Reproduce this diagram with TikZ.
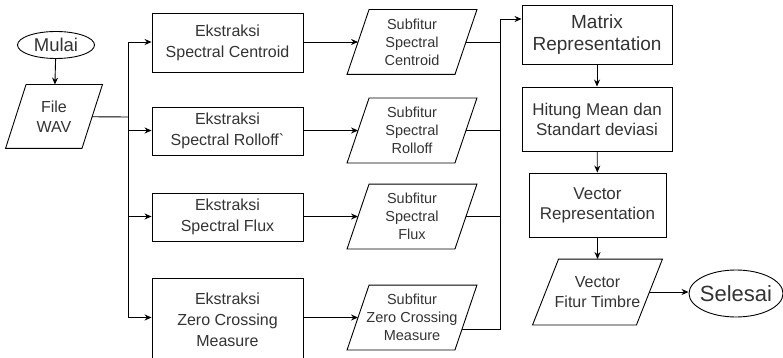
\documentclass[tikz,border=0pt]{standalone}
\usepackage{fontspec}
\setmainfont{Liberation Sans}
\usetikzlibrary{shapes.geometric,arrows.meta,calc}
\definecolor{ink}{HTML}{333333}

\tikzset{
  box/.style={draw, rectangle, align=center, inner sep=0pt, text=ink},
  io/.style={rectangle, align=center, inner sep=0pt, text=ink},
  term/.style={draw, ellipse, inner xsep=-3pt, inner ysep=0pt, text=ink},
  go/.style={-{Stealth[length=7pt,width=6pt]}},
}
% outline of a data node: #1 node name, #2 half of the slant
\newcommand\slantbox[2]{%
  \draw ([xshift=#2]#1.north west) -- ([xshift=#2]#1.north east)
     -- ([xshift=-#2]#1.south east) -- ([xshift=-#2]#1.south west) -- cycle;}

\begin{document}
\begin{tikzpicture}[x=1pt,y=-1pt,line width=0.9pt,font=\fontsize{16}{21}\selectfont]
  \useasboundingbox (0,0) rectangle (783,358);

  % start and input
  \node[term,minimum width=77pt,minimum height=27pt,font=\fontsize{18.5}{22}\selectfont] (mulai) at (56,45) {Mulai};
  \node[io,minimum width=75.5pt,minimum height=63pt,font=\fontsize{16}{20}\selectfont] (file) at (54,116.5) {File\\WAV};
  \slantbox{file}{10.25pt}
  \draw[go] (mulai) -- (file);

  % four feature rows: y of box / box height / y of output / texts
  \def\rows{42.5/59/42/{Ekstraksi\\Spectral Centroid}/{Subfitur\\Spectral\\Centroid},
            131/48/130.5/{Ekstraksi\\Spectral Rolloff\textasciigrave}/{Subfitur\\Spectral\\Rolloff},
            217/48/216.5/{Ekstraksi\\Spectral Flux}/{Subfitur\\Spectral\\Flux},
            320/84/317.5/{Ekstraksi\\Zero Crossing\\Measure}/{Subfitur\\Zero Crossing\\Measure}}
  \foreach \ye/\h/\ys/\ek/\sf [count=\i from 1] in \rows {
    \node[box,minimum width=151pt,minimum height=\h pt] (e\i) at (227.5,\ye) {\ek};
    \node[io,minimum width=107pt,minimum height=64pt,
      font=\fontsize{14.5}{18}\selectfont] (s\i) at (412,\ys) {\sf};
    \slantbox{s\i}{11pt}
  }

  % split from the input to every extraction
  \coordinate (split) at (128,117);
  \draw (file) -- (split);
  \foreach \i in {1,...,4} {
    \draw[go] (split) |- (e\i.west |- s\i);
    \draw[go] (e\i.east |- s\i) -- (s\i);
  }

  % right column
  \node[box,minimum width=150pt,minimum height=59pt,font=\fontsize{19}{21.5}\selectfont] (mrep) at (597,34.5) {Matrix\\Representation};
  \node[box,minimum width=150pt,minimum height=64pt,font=\fontsize{17}{20}\selectfont] (mean) at (597,119) {Hitung Mean dan\\Standart deviasi};
  \node[box,minimum width=137pt,minimum height=64pt,font=\fontsize{17}{20}\selectfont] (vrep) at (597.5,205) {Vector\\Representation};
  \node[io,minimum width=103pt,minimum height=65pt,font=\fontsize{16}{20}\selectfont] (vft) at (597.5,292) {Vector\\Fitur Timbre};
  \slantbox{vft}{13pt}
  \node[term,minimum width=94pt,minimum height=47pt,font=\fontsize{22}{26}\selectfont] (selesai) at (736,293.5) {Selesai};

  % merge of the four outputs
  \coordinate (top) at (500,19);
  \foreach \i in {1,2,3} \draw (s\i) -- (s\i -| top);
  \draw[go] ([xshift=-4pt]$(s4.north east)!0.68!(s4.south east)$) -| (top) -- (top -| mrep.west);

  \draw[go] (mrep) -- (mean);
  \draw[go] (mean) -- (vrep);
  \draw[go] (vrep) -- (vft);
  \draw[go] (vft) -- (vft -| selesai.west);
\end{tikzpicture}
\end{document}
